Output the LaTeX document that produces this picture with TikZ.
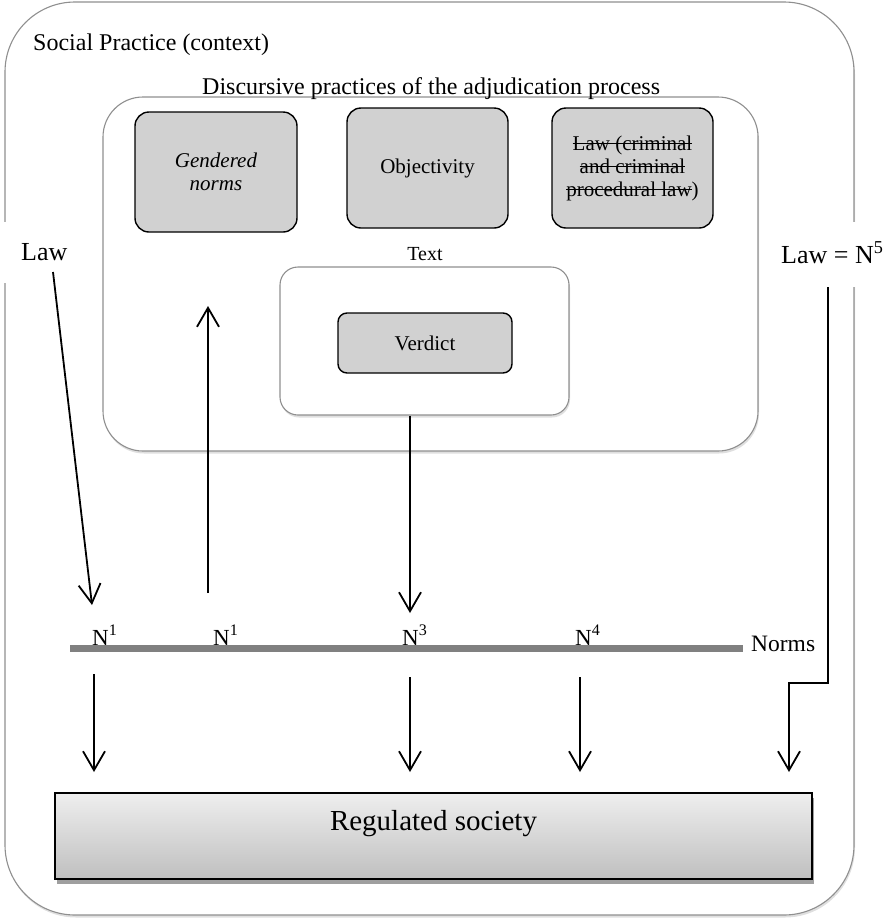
\documentclass[tikz,border=0pt]{standalone}
\usepackage{fontspec}
\setmainfont{Liberation Serif}
\usetikzlibrary{arrows.meta,shadows}
\newsavebox\strkbox
\newcommand\strk[1]{\sbox\strkbox{#1}\rlap{\rule[0.27em]{\wd\strkbox}{0.06em}}\usebox\strkbox}
\definecolor{boxgray}{HTML}{D1D1D1}
\definecolor{framegray}{HTML}{8F8F8F}
\definecolor{normgray}{HTML}{808080}
\begin{document}
\begin{tikzpicture}[x=1pt,y=-1pt,
  container/.style={draw=framegray, line width=1.1pt, rounded corners=#1, fill=white,
    drop shadow={opacity=0.25, shadow xshift=1pt, shadow yshift=-2.5pt}, inner sep=0pt},
  graybox/.style={draw=black, line width=1.4pt, fill=boxgray, rounded corners=#1,
    inner sep=0pt, align=center, font=\fontsize{21}{23}\selectfont},
  bigtext/.style={inner sep=0pt, font=\fontsize{24}{28}\selectfont},
  lawtext/.style={inner sep=0pt, font=\fontsize{26}{30}\selectfont},
  nlab/.style={inner sep=0pt, anchor=base west, font=\fontsize{23}{27}\selectfont},
  smalltext/.style={inner sep=0pt, font=\fontsize{20}{24}\selectfont},
  whitebg/.style={fill=white, draw=none, inner sep=0pt},
  arr/.style={line width=1.8pt, -{Straight Barb[length=19pt,width=22pt,line width=1.8pt]}},
  plain/.style={line width=1.8pt}
]
\useasboundingbox (0,0) rectangle (883,919);

% outer context box
\node[container=70pt, minimum width=849pt, minimum height=913pt] (social) at (429.5,458.5) {};
\node[bigtext, anchor=base west] (socialtxt) at (33,50) {Social Practice (context)};

% white backgrounds of side labels
\node[whitebg, minimum width=100pt, minimum height=61pt] (lawbg) at (50,252.5) {};
\node[whitebg, minimum width=123pt, minimum height=65pt] (lawnbg) at (821.5,254.5) {};
\node[lawtext, anchor=base west] (law) at (21,260) {Law};
\node[lawtext, anchor=base west] (lawn) at (781,263) {Law = N\textsuperscript{5}};

% discursive practices box
\node[container=40pt, minimum width=655pt, minimum height=354pt] (disc) at (430.5,274) {};
\node[bigtext, anchor=base west] (disctxt) at (202,94) {Discursive practices of the adjudication process};

\node[graybox=14pt, minimum width=162pt, minimum height=120pt] (gendered) at (216,172)
  {\itshape Gendered\\\itshape norms};
\node[graybox=14pt, minimum width=161pt, minimum height=120pt] (objectivity) at (427.5,168)
  {Objectivity};
\node[graybox=14pt, minimum width=161pt, minimum height=120pt] (lawbox) at (632.5,168)
  {\strk{Law (criminal}\\\strk{and criminal}\\\strk{procedural law})};

% text box
\node[container=18pt, minimum width=289pt, minimum height=148pt] (textbox) at (424.5,341) {};
\node[smalltext, anchor=base] (texttxt) at (425,260) {Text};
\node[graybox=9pt, minimum width=174pt, minimum height=60pt] (verdict) at (425,343) {Verdict};

% norms line
\coordinate (normL) at (70,648);
\coordinate (normR) at (743,648);
\draw[normgray, line width=7pt] (normL) -- (normR);
\node[nlab] (n1a) at (92,645) {N\textsuperscript{1}};
\node[nlab] (n1b) at (213,645) {N\textsuperscript{1}};
\node[nlab] (n3) at (402,645) {N\textsuperscript{3}};
\node[nlab] (n4) at (575,645) {N\textsuperscript{4}};
\node[nlab, font=\fontsize{23.5}{27}\selectfont] (norms) at (751,651) {Norms};

% regulated society
\node[draw=black, line width=1.3pt, top color=gray!13, bottom color=gray!50,
  drop shadow={fill=gray!75, opacity=1, shadow xshift=2pt, shadow yshift=-5pt},
  minimum width=757pt, minimum height=86pt, inner sep=0pt] (society) at (433.5,836) {};
\node[inner sep=0pt, anchor=base, font=\fontsize{29}{33}\selectfont] (societytxt) at (433.5,830) {Regulated society};

% connectors
\coordinate (lawstart) at (53,272);
\coordinate (n1atop) at (92,605);
\draw[arr] (lawstart) -- (n1atop);

\coordinate (upstart) at (208,593);
\coordinate (uptip) at (208,306);
\draw[arr] (upstart) -- (uptip);

\coordinate (vx) at (410,0);
\coordinate (n3top) at (410,613);
\draw[arr] (textbox.south -| vx) -- (n3top);

\coordinate (d1s) at (94,674);  \coordinate (d1e) at (94,772);
\coordinate (d3s) at (410,677); \coordinate (d3e) at (410,772);
\coordinate (d4s) at (580,677); \coordinate (d4e) at (580,772);
\draw[arr] (d1s) -- (d1e);
\draw[arr] (d3s) -- (d3e);
\draw[arr] (d4s) -- (d4e);

\coordinate (rstart) at (828,287);
\coordinate (rbend1) at (828,683);
\coordinate (rbend2) at (789,683);
\coordinate (rend) at (789,772);
\draw[arr, line join=miter] (rstart) -- (rbend1) -- (rbend2) -- (rend);
\end{tikzpicture}
\end{document}
